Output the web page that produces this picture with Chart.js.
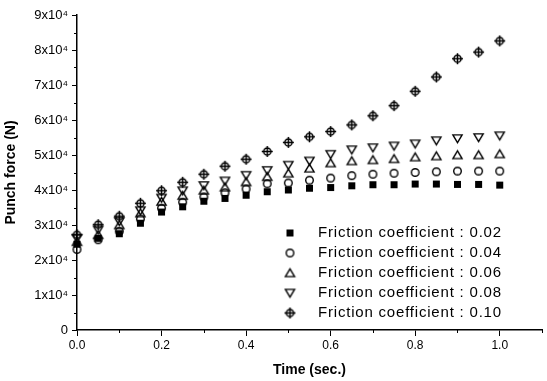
<!DOCTYPE html>
<html>
<head>
<meta charset="utf-8">
<script src="https://cdn.jsdelivr.net/npm/chart.js@4.4.0/dist/chart.umd.min.js"></script>
<style>
  html, body { margin: 0; padding: 0; background: #fff; }
  #wrap { width: 547px; height: 381px; }
</style>
</head>
<body>
<div id="wrap"><canvas id="myChart" width="547" height="381"></canvas></div>
<script>
// time steps (sec.)
const timeValues = [0, 0.05, 0.1, 0.15, 0.2, 0.25, 0.3, 0.35, 0.4, 0.45, 0.5,
                    0.55, 0.6, 0.65, 0.7, 0.75, 0.8, 0.85, 0.9, 0.95, 1.0];

// punch force in units of 10^4 N
const force002 = [2.45, 2.62, 2.75, 3.05, 3.37, 3.52, 3.68, 3.76, 3.85, 3.95, 4.0,
                  4.05, 4.07, 4.12, 4.15, 4.15, 4.17, 4.17, 4.16, 4.16, 4.14];
const force004 = [2.3, 2.58, 2.82, 3.17, 3.48, 3.65, 3.8, 3.92, 4.03, 4.18, 4.2,
                  4.28, 4.34, 4.41, 4.45, 4.48, 4.5, 4.52, 4.54, 4.54, 4.54];
const force006 = [2.52, 2.72, 3.0, 3.34, 3.67, 3.84, 3.99, 4.08, 4.23, 4.38, 4.48,
                  4.62, 4.77, 4.83, 4.86, 4.89, 4.94, 4.97, 5.0, 5.0, 5.03];
const force008 = [2.62, 2.86, 3.1, 3.41, 3.77, 3.98, 4.13, 4.26, 4.42, 4.56, 4.71,
                  4.83, 5.02, 5.15, 5.21, 5.26, 5.32, 5.41, 5.47, 5.5, 5.55];
const force010 = [2.72, 3.01, 3.25, 3.62, 3.98, 4.22, 4.45, 4.68, 4.88, 5.1, 5.36,
                  5.52, 5.67, 5.86, 6.12, 6.41, 6.82, 7.23, 7.75, 7.94, 8.26];

const seriesNames = ['Friction coefficient : 0.02', 'Friction coefficient : 0.04',
                     'Friction coefficient : 0.06', 'Friction coefficient : 0.08',
                     'Friction coefficient : 0.10'];

const xTickValues = [0, 0.2, 0.4, 0.6, 0.8, 1.0];
const xTickLabels = ['0.0', '0.2', '0.4', '0.6', '0.8', '1.0'];
const yTickValues = [0, 1, 2, 3, 4, 5, 6, 7, 8, 9];
const yTickLabels = ['0', '1x10\u2074', '2x10\u2074', '3x10\u2074', '4x10\u2074',
                     '5x10\u2074', '6x10\u2074', '7x10\u2074', '8x10\u2074', '9x10\u2074'];

// little canvases used as point styles (and reused by the legend)
function makeMarker(kind) {
    const c = document.createElement('canvas');
    c.width = 13; c.height = 13;
    const g = c.getContext('2d');
    const m = 6.5;
    g.strokeStyle = '#000';
    g.fillStyle = '#000';
    g.lineWidth = 1.4;
    g.beginPath();
    if (kind === 'square') {
        g.fillRect(m - 3.5, m - 3.5, 7, 7);
        return c;
    } else if (kind === 'circle') {
        g.arc(m, m, 3.8, 0, Math.PI * 2);
    } else if (kind === 'up') {
        g.moveTo(m, m - 4.2); g.lineTo(m + 4.6, m + 3.6); g.lineTo(m - 4.6, m + 3.6); g.closePath();
    } else if (kind === 'down') {
        g.moveTo(m, m + 4.2); g.lineTo(m + 4.6, m - 3.6); g.lineTo(m - 4.6, m - 3.6); g.closePath();
    } else {
        g.arc(m, m, 3.6, 0, Math.PI * 2);
        g.moveTo(m - 5.5, m); g.lineTo(m + 5.5, m);
        g.moveTo(m, m - 5.5); g.lineTo(m, m + 5.5);
        g.lineWidth = 1.5;
    }
    g.stroke();
    return c;
}

const markers = ['square', 'circle', 'up', 'down', 'diamond'].map(makeMarker);
const allForces = [force002, force004, force006, force008, force010];

const datasets = allForces.map((f, i) => ({
    label: seriesNames[i],
    data: timeValues.map((t, j) => ({ x: t, y: f[j] })),
    pointStyle: markers[i],
    showLine: false,
    clip: false
}));

// minor ticks + legend inside the plot
const extras = {
    id: 'extras',
    afterDraw(chart) {
        const ctx = chart.ctx;
        const xs = chart.scales.x, ys = chart.scales.y;
        ctx.save();
        ctx.strokeStyle = '#000';
        ctx.lineWidth = 1;
        ctx.beginPath();
        for (let v = 0.1; v < 1.1; v += 0.2) {
            const px = Math.round(xs.getPixelForValue(v)) + 0.5;
            ctx.moveTo(px, ys.bottom); ctx.lineTo(px, ys.bottom + 3);
        }
        for (let v = 0.5; v < 9; v += 1) {
            const py = Math.round(ys.getPixelForValue(v)) + 0.5;
            ctx.moveTo(xs.left, py); ctx.lineTo(xs.left - 3, py);
        }
        ctx.stroke();

        const area = chart.chartArea;
        ctx.font = '15px "Liberation Sans", Arial, sans-serif';
        ctx.letterSpacing = '0.8px';
        ctx.fillStyle = '#000';
        ctx.textBaseline = 'middle';
        datasets.forEach((d, i) => {
            const y = area.top + 218 + i * 20;
            const img = markers[i];
            ctx.drawImage(img, area.left + 213 - img.width / 2, y - img.height / 2);
            ctx.fillText(d.label, area.left + 241, y);
        });
        ctx.letterSpacing = '0px';
        ctx.restore();
    }
};

var ctx = document.getElementById('myChart').getContext('2d');

var chart = new Chart(ctx, {
    type: 'scatter',
    data: { datasets: datasets },
    options: {
        responsive: false,
        animation: false,
        layout: { padding: { top: 15, right: 0, left: 0, bottom: 0 } },
        plugins: {
            legend: { display: false },
            tooltip: { enabled: false }
        },
        scales: {
            x: {
                type: 'linear',
                min: 0,
                max: 1.1,
                afterBuildTicks: (scale) => { scale.ticks = xTickValues.map(v => ({ value: v })); },
                afterFit: (scale) => { scale.height = 51; },
                ticks: {
                    padding: 2,
                    maxRotation: 0,
                    color: '#000',
                    font: { family: '"Liberation Sans", Arial, sans-serif', size: 12 },
                    callback: (v) => xTickLabels[xTickValues.indexOf(v)]
                },
                grid: { drawOnChartArea: false, drawTicks: true, tickLength: 6, color: '#000' },
                border: { display: true, color: '#000', width: 1.5 },
                title: {
                    display: true,
                    text: 'Time (sec.)',
                    color: '#000',
                    padding: { top: 0, bottom: 2 },
                    font: { family: '"Liberation Sans", Arial, sans-serif', size: 14, weight: 'bold' }
                }
            },
            y: {
                type: 'linear',
                min: 0,
                max: 9,
                afterBuildTicks: (scale) => { scale.ticks = yTickValues.map(v => ({ value: v })); },
                afterFit: (scale) => { scale.width = 77; },
                ticks: {
                    padding: 4,
                    color: '#000',
                    font: { family: '"Liberation Sans", Arial, sans-serif', size: 13 },
                    callback: (v) => yTickLabels[yTickValues.indexOf(v)]
                },
                grid: { drawOnChartArea: false, drawTicks: true, tickLength: 5, color: '#000' },
                border: { display: true, color: '#000', width: 1.5 },
                title: {
                    display: true,
                    text: 'Punch force (N)',
                    color: '#000',
                    padding: { top: 3, bottom: 0 },
                    font: { family: '"Liberation Sans", Arial, sans-serif', size: 14, weight: 'bold' }
                }
            }
        }
    },
    plugins: [extras]
});
</script>
</body>
</html>
